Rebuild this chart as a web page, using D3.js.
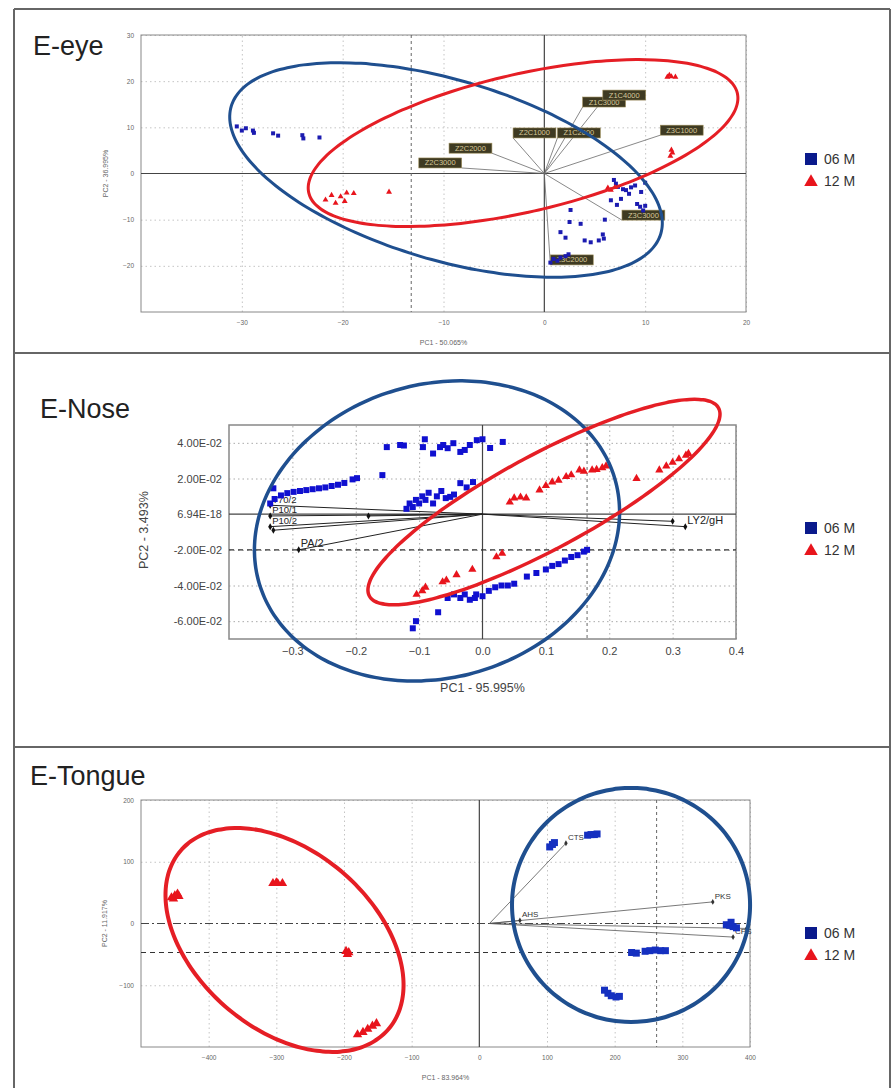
<!DOCTYPE html>
<html>
<head>
<meta charset="utf-8">
<script src="https://cdn.jsdelivr.net/npm/d3@7"></script>
<style>
  body { margin: 0; background: #fff; }
  svg text { font-family: "Liberation Sans", Arial, sans-serif; }
</style>
</head>
<body>
<svg id="chart" width="891" height="1088"></svg>
<script>
// ---------- data ----------
const groups = ["06 M", "12 M"];

// E-eye scores (PC1, PC2)
const eyeScores06 = [
  [-30.5, 10.2], [-30, 9.3], [-29.6, 9.8], [-28.9, 9.3], [-28.8, 8.8], [-26.9, 8.7], [-26.4, 8.2],
  [-24, 8.3], [-23.9, 7.6], [-22.3, 7.8],
  [6.9, -1.4], [7.1, -2.2], [7.3, -2.9], [7.8, -3.4], [8.1, -3.6], [8.4, -4.4], [8.6, -3.0], [9.0, -2.6],
  [9.6, -4.0], [10.0, -2.0], [9.2, -6.6], [9.5, -7.2], [9.8, -8.0], [10.0, -7.0], [7.6, -5.5], [7.2, -6.8], [6.6, -5.8],
  [2.6, -7.9], [2.5, -10.5], [3.6, -10.9], [1.6, -12.7], [2.1, -13.9], [4.0, -14.5], [4.6, -14.9], [5.4, -14.5],
  [5.9, -14.1], [5.8, -13.2], [6.0, -10.0], [0.9, -18.5], [1.3, -18.9], [1.6, -18.2], [2.1, -17.9], [2.4, -17.5], [0.6, -19.3]
];
const eyeScores12 = [
  [-21.7, -5.7], [-21.1, -4.7], [-20.7, -6.4], [-20.2, -5], [-19.8, -6.0], [-19.6, -4.2], [-18.9, -4.3], [-15.4, -4.0],
  [12.2, 20.9], [12.6, 21.0], [13.0, 20.9], [12.4, 21.3], [12.6, 5.1], [12.5, 3.8], [12.7, 4.5],
  [6.6, -3.6], [7.0, -3.0], [6.3, -3.1]
];
const eyeLoadings = [
  {name: "Z1C3000", x: 3.8, y: 14.4, side: "start"},
  {name: "Z1C4000", x: 5.8, y: 15.9, side: "start"},
  {name: "Z2C1000", x: -3.1, y: 7.7, side: "start"},
  {name: "Z1C2000", x: 1.3, y: 7.7, side: "start"},
  {name: "Z3C1000", x: 11.5, y: 8.3, side: "start"},
  {name: "Z2C2000", x: -5.2, y: 4.4, side: "end"},
  {name: "Z2C3000", x: -8.2, y: 1.2, side: "end"},
  {name: "Z3C3000", x: 7.7, y: -10.1, side: "start"},
  {name: "Z3C2000", x: 0.6, y: -19.8, side: "start"}
];
const eyeEllipse06 = {cx: -9.75, cy: 0.76, ux: 21.3, uy: -13.8, vx: -2.54, vy: -18.7};
const eyeEllipse12 = {cx: -2.11, cy: 6.6, ux: 21.25, uy: 10.8, vx: 1.55, vy: -14.5};
const eyeRefX = [-13.2];
const eyeRefY = [];

// E-Nose scores
const noseScores06 = [
  [-0.151, 0.0376], [-0.13, 0.0388], [-0.124, 0.0385], [-0.094, 0.0376], [-0.091, 0.042], [-0.078, 0.034],
  [-0.062, 0.0388], [-0.067, 0.0376], [-0.055, 0.037], [-0.046, 0.0398], [-0.035, 0.0349], [-0.028, 0.036],
  [-0.02, 0.0388], [-0.009, 0.0415], [0.0, 0.042], [0.012, 0.0371], [0.032, 0.0405], [-0.158, 0.0219],
  [-0.335, 0.006], [-0.328, 0.0085], [-0.318, 0.0105], [-0.308, 0.0118], [-0.298, 0.0125], [-0.288, 0.013],
  [-0.278, 0.0135], [-0.268, 0.014], [-0.258, 0.0145], [-0.248, 0.015], [-0.238, 0.0158], [-0.228, 0.0165],
  [-0.218, 0.0175], [-0.205, 0.0195], [-0.198, 0.0202], [-0.33, 0.0145],
  [-0.12, 0.003], [-0.115, 0.006], [-0.11, 0.004], [-0.105, 0.008], [-0.1, 0.006], [-0.095, 0.01],
  [-0.09, 0.008], [-0.085, 0.012], [-0.078, 0.006], [-0.072, 0.01], [-0.065, 0.013], [-0.058, 0.009],
  [-0.051, 0.0097], [-0.045, 0.011], [-0.035, 0.0174], [-0.025, 0.015], [-0.015, 0.018],
  [-0.01, -0.045], [0.0, -0.046], [0.01, -0.043], [0.02, -0.041], [0.03, -0.04], [0.04, -0.04],
  [0.05, -0.039], [0.07, -0.035], [0.085, -0.033], [0.1, -0.031], [0.11, -0.029], [0.12, -0.028],
  [0.13, -0.026], [0.14, -0.024], [0.15, -0.023], [0.16, -0.021], [0.165, -0.02],
  [-0.11, -0.064], [-0.105, -0.06], [-0.07, -0.055], [-0.055, -0.047], [-0.045, -0.045],
  [-0.035, -0.047], [-0.028, -0.045], [-0.02, -0.048], [-0.012, -0.047]
];
const noseScores12 = [
  [0.043, 0.0067], [0.05, 0.009], [0.06, 0.0095], [0.069, 0.009], [0.09, 0.0135], [0.1, 0.016], [0.11, 0.018],
  [0.12, 0.019], [0.132, 0.021], [0.14, 0.022], [0.153, 0.0247], [0.16, 0.024], [0.173, 0.0247], [0.18, 0.025],
  [0.189, 0.026], [0.195, 0.027], [0.243, 0.02], [0.279, 0.0247], [0.29, 0.027], [0.3, 0.029], [0.31, 0.031],
  [0.321, 0.033], [0.325, 0.034],
  [-0.104, -0.045], [-0.095, -0.043], [-0.09, -0.041], [-0.063, -0.038], [-0.057, -0.037], [-0.041, -0.034],
  [-0.016, -0.031], [0.022, -0.024], [0.031, -0.022]
];
const noseLoadings = [
  {name: "T70/2", x: -0.335, y: 0.005},
  {name: "P10/1", x: -0.335, y: -0.001},
  {name: "P10/2", x: -0.335, y: -0.007},
  {name: "", x: -0.33, y: -0.009},
  {name: "PA/2", x: -0.29, y: -0.02},
  {name: "", x: -0.18, y: -0.001},
  {name: "", x: 0.3, y: -0.004},
  {name: "LY2/gH", x: 0.32, y: -0.007}
];
const noseEllipse06 = {cx: -0.0718, cy: -0.0094, ux: 0.2806, uy: 0.0293, vx: 0.0652, vy: -0.0789};
const noseEllipse12 = {cx: 0.097, cy: 0.0068, ux: 0.2755, uy: 0.0527, vx: 0.0353, vy: -0.0233};
const noseRefX = [0.165];
const noseRefY = [-0.02];

// E-Tongue scores
const tongueScores06 = [
  [104, 124], [108, 128], [111, 131], [160, 143], [165, 144], [170, 144], [174, 145],
  [365, -2], [370, -3], [375, -5], [380, -7], [372, 2],
  [225, -47], [232, -48], [245, -45], [252, -44], [260, -43], [268, -44], [275, -44],
  [185, -108], [190, -113], [195, -117], [202, -119], [207, -118]
];
const tongueScores12 = [
  [-455, 42], [-450, 45], [-446, 48], [-452, 40], [-444, 44],
  [-305, 65], [-298, 65], [-291, 65], [-300, 66],
  [-197, -45], [-193, -47], [-195, -50],
  [-180, -180], [-172, -176], [-165, -171], [-158, -166], [-152, -162]
];
const tongueLoadings = [
  {name: "CTS", x: 128, y: 130},
  {name: "PKS", x: 345, y: 35},
  {name: "CPS", x: 375, y: -22},
  {name: "", x: 395, y: -8},
  {name: "AHS", x: 60, y: 5}
];
const tongueEllipse06 = {cx: 224.2, cy: 30, ux: 175.9, uy: 0, vx: 0, vy: -189.5};
const tongueEllipse12 = {cx: -287.9, cy: -26.7, ux: 153.5, uy: -144.6, vx: -85.9, vy: -109.3};
const tongueRefX = [262];
const tongueRefY = [-47];
const tongueOrigin = [15, 0];

// ---------- layout ----------
const svg = d3.select("#chart");
svg.append("rect").attr("width", 891).attr("height", 1088).attr("fill", "#fff");

const panels = [
  {
    title: "E-eye", titleX: 33, titleY: 55,
    x0: 141, x1: 746, y0: 35, y1: 312,
    xDomain: [-40, 20], yDomain: [-30, 30],
    xTicks: [-30, -20, -10, 0, 10, 20], yTicks: [-20, -10, 0, 10, 20, 30],
    xFmt: d3.format("d"), yFmt: d3.format("d"),
    tickSize: 6.5, tickColor: "#666",
    xTitle: "PC1 - 50.065%", yTitle: "PC2 - 36.995%", titleSize: 7,
    xTitleY: 345, yTitleX: 108,
    s06: eyeScores06, s12: eyeScores12, e06: eyeEllipse06, e12: eyeEllipse12,
    refX: eyeRefX, refY: eyeRefY, sq: 4, tri: 5, ellW: 3,
    blue: "#1b1bb0", legendY: 159
  },
  {
    title: "E-Nose", titleX: 40, titleY: 418,
    x0: 229, x1: 736, y0: 425, y1: 639,
    xDomain: [-0.4, 0.4], yDomain: [-0.07, 0.05],
    xTicks: [-0.3, -0.2, -0.1, 0, 0.1, 0.2, 0.3, 0.4], yTicks: [-0.06, -0.04, -0.02, 0, 0.02, 0.04],
    xFmt: d3.format(".1f"), yFmt: v => v === 0 ? "6.94E-18" : d3.format(".2e")(Math.abs(v)).replace("e", "E").replace("-", "-0").replace(/^/, v < 0 ? "-" : ""),
    tickSize: 11, tickColor: "#444",
    xTitle: "PC1 - 95.995%", yTitle: "PC2 - 3.493%", titleSize: 12.5,
    xTitleY: 692, yTitleX: 148,
    s06: noseScores06, s12: noseScores12, e06: noseEllipse06, e12: noseEllipse12,
    refX: noseRefX, refY: noseRefY, sq: 6, tri: 7, ellW: 3.5,
    blue: "#1010d0", legendY: 528
  },
  {
    title: "E-Tongue", titleX: 30, titleY: 785,
    x0: 141, x1: 750, y0: 800, y1: 1047,
    xDomain: [-500, 400], yDomain: [-200, 200],
    xTicks: [-400, -300, -200, -100, 0, 100, 200, 300, 400], yTicks: [-100, 0, 100, 200],
    xFmt: d3.format("d"), yFmt: d3.format("d"),
    tickSize: 6.5, tickColor: "#666",
    xTitle: "PC1 - 83.964%", yTitle: "PC2 - 11.917%", titleSize: 7,
    xTitleY: 1080, yTitleX: 107,
    s06: tongueScores06, s12: tongueScores12, e06: tongueEllipse06, e12: tongueEllipse12,
    refX: tongueRefX, refY: tongueRefY, sq: 7, tri: 8, ellW: 4,
    blue: "#1530c0", legendY: 933
  }
];

// frames around the three panels
const frame = svg.append("g").attr("stroke", "#666").attr("stroke-width", 2).attr("fill", "none");
frame.append("line").attr("x1", 14).attr("x2", 14).attr("y1", 9).attr("y2", 1088);
frame.append("line").attr("x1", 890).attr("x2", 890).attr("y1", 9).attr("y2", 1088);
[9, 353, 747].forEach(yy => frame.append("line").attr("x1", 14).attr("x2", 890).attr("y1", yy).attr("y2", yy));

function ellipsePath(e, x, y) {
  let pts = d3.range(0, 360, 3).map(a => {
    let t = a * Math.PI / 180;
    return [x(e.cx + e.ux * Math.cos(t) + e.vx * Math.sin(t)),
            y(e.cy + e.uy * Math.cos(t) + e.vy * Math.sin(t))];
  });
  return d3.line().curve(d3.curveCardinalClosed)(pts);
}

panels.forEach((p, pi) => {
  let g = svg.append("g");
  let x = d3.scaleLinear().domain(p.xDomain).range([p.x0, p.x1]);
  let y = d3.scaleLinear().domain(p.yDomain).range([p.y1, p.y0]);
  let w = p.x1 - p.x0, h = p.y1 - p.y0;

  g.append("text").attr("x", p.titleX).attr("y", p.titleY)
    .attr("font-size", 27).attr("fill", "#222").text(p.title);

  // grid
  let gx = g.append("g").attr("transform", `translate(0,${p.y1})`)
    .call(d3.axisBottom(x).tickValues(p.xTicks.filter(v => v !== 0)).tickSize(-h).tickFormat(""));
  let gy = g.append("g").attr("transform", `translate(${p.x0},0)`)
    .call(d3.axisLeft(y).tickValues(p.yTicks.filter(v => v !== 0)).tickSize(-w).tickFormat(""));
  [gx, gy].forEach(a => {
    a.select(".domain").remove();
    a.selectAll("line").attr("stroke", pi === 1 ? "#aaa" : "#c4c4c4").attr("stroke-dasharray", "1.5,3");
  });

  // tick labels
  let ax = g.append("g").attr("transform", `translate(0,${p.y1 + 5})`)
    .call(d3.axisBottom(x).tickValues(p.xTicks).tickSize(0).tickFormat(p.xFmt));
  let ay = g.append("g").attr("transform", `translate(${p.x0 - 4},0)`)
    .call(d3.axisLeft(y).tickValues(p.yTicks).tickSize(0).tickFormat(p.yFmt));
  [ax, ay].forEach(a => {
    a.select(".domain").remove();
    a.selectAll("text").attr("font-size", p.tickSize).attr("fill", p.tickColor)
      .attr("font-family", "'Liberation Sans', Arial, sans-serif");
  });

  g.append("text").attr("x", (p.x0 + p.x1) / 2).attr("y", p.xTitleY)
    .attr("text-anchor", "middle").attr("font-size", p.titleSize).attr("fill", p.tickColor).text(p.xTitle);
  g.append("text").attr("transform", `translate(${p.yTitleX},${y(0) + (pi === 1 ? 16 : 0)}) rotate(-90)`)
    .attr("text-anchor", "middle").attr("font-size", p.titleSize).attr("fill", p.tickColor).text(p.yTitle);

  // plot border
  g.append("rect").attr("x", p.x0).attr("y", p.y0).attr("width", w).attr("height", h)
    .attr("fill", "none").attr("stroke", "#888").attr("stroke-width", pi === 1 ? 1.5 : 1);

  // zero axes
  g.append("line").attr("x1", x(0)).attr("x2", x(0)).attr("y1", p.y0).attr("y2", p.y1)
    .attr("stroke", "#444").attr("stroke-width", 1.2);
  g.append("line").attr("x1", p.x0).attr("x2", p.x1).attr("y1", y(0)).attr("y2", y(0))
    .attr("stroke", "#444").attr("stroke-width", 1.2)
    .attr("stroke-dasharray", pi === 2 ? "8,3,2,3" : null);

  // reference lines
  p.refX.forEach(v => g.append("line").attr("x1", x(v)).attr("x2", x(v)).attr("y1", p.y0).attr("y2", p.y1)
    .attr("stroke", "#666").attr("stroke-dasharray", "3,3"));
  p.refY.forEach(v => g.append("line").attr("x1", p.x0).attr("x2", p.x1).attr("y1", y(v)).attr("y2", y(v))
    .attr("stroke", "#333").attr("stroke-width", 1.2).attr("stroke-dasharray", "5,4"));

  // loadings
  let lg = g.append("g");
  if (pi === 0) {
    eyeLoadings.forEach(l => {
      lg.append("line").attr("x1", x(0)).attr("y1", y(0)).attr("x2", x(l.x)).attr("y2", y(l.y))
        .attr("stroke", "#6a6a6a").attr("stroke-width", 0.8);
    });
    eyeLoadings.forEach(l => {
      let t = lg.append("text").attr("font-size", 7.5).attr("fill", "#d6c79a").text(l.name);
      let tw = t.node().getComputedTextLength() + 12;
      let bx = l.side === "start" ? x(l.x) : x(l.x) - tw;
      lg.insert("rect", () => t.node()).attr("x", bx).attr("y", y(l.y) - 10).attr("width", tw).attr("height", 10)
        .attr("fill", "#3e3a22").attr("stroke", "#9c8c58").attr("stroke-width", 0.6);
      t.attr("x", bx + 6).attr("y", y(l.y) - 2.5);
    });
  } else if (pi === 1) {
    noseLoadings.forEach(l => {
      lg.append("line").attr("x1", x(0)).attr("y1", y(0)).attr("x2", x(l.x)).attr("y2", y(l.y))
        .attr("stroke", "#222").attr("stroke-width", 1);
      lg.append("path").attr("d", d3.symbol(d3.symbolDiamond, 14)())
        .attr("transform", `translate(${x(l.x)},${y(l.y)})`).attr("fill", "#111");
      lg.append("text").attr("x", x(l.x) + 2).attr("y", y(l.y) - 2.5)
        .attr("font-size", l.x < -0.3 ? 9.5 : 11)
        .attr("fill", "#222").text(l.name);
    });
  } else {
    tongueLoadings.forEach(l => {
      lg.append("line").attr("x1", x(tongueOrigin[0])).attr("y1", y(tongueOrigin[1]))
        .attr("x2", x(l.x)).attr("y2", y(l.y))
        .attr("stroke", "#555").attr("stroke-width", 0.8);
      lg.append("path").attr("d", d3.symbol(d3.symbolDiamond, 10)())
        .attr("transform", `translate(${x(l.x)},${y(l.y)})`).attr("fill", "#333");
      lg.append("text").attr("x", x(l.x) + 2).attr("y", y(l.y) - 3).attr("font-size", 8)
        .attr("fill", "#333").text(l.name);
    });
  }

  // scores
  g.append("g").selectAll("path").data(p.s06).join("path")
    .attr("d", d3.symbol(d3.symbolSquare, p.sq * p.sq)())
    .attr("transform", d => `translate(${x(d[0])},${y(d[1])})`)
    .attr("fill", p.blue);
  g.append("g").selectAll("path").data(p.s12).join("path")
    .attr("d", d3.symbol(d3.symbolTriangle, p.tri * p.tri * 0.6)())
    .attr("transform", d => `translate(${x(d[0])},${y(d[1])})`)
    .attr("fill", "#e8141c");

  // group ellipses
  g.append("path").attr("d", ellipsePath(p.e06, x, y)).attr("fill", "none")
    .attr("stroke", "#1f4f8f").attr("stroke-width", p.ellW);
  g.append("path").attr("d", ellipsePath(p.e12, x, y)).attr("fill", "none")
    .attr("stroke", "#e51e25").attr("stroke-width", p.ellW);

  // legend
  let leg = g.append("g").attr("transform", `translate(805,${p.legendY})`);
  leg.append("rect").attr("x", 0).attr("y", -6).attr("width", 12).attr("height", 12).attr("fill", "#0a1a8c");
  leg.append("path").attr("d", d3.symbol(d3.symbolTriangle, 80)()).attr("transform", "translate(6,23)")
    .attr("fill", "#e8141c");
  groups.forEach((gname, i) => {
    leg.append("text").attr("x", 19).attr("y", 5 + i * 22).attr("font-size", 14).attr("fill", "#333").text(gname);
  });
});
</script>
</body>
</html>
